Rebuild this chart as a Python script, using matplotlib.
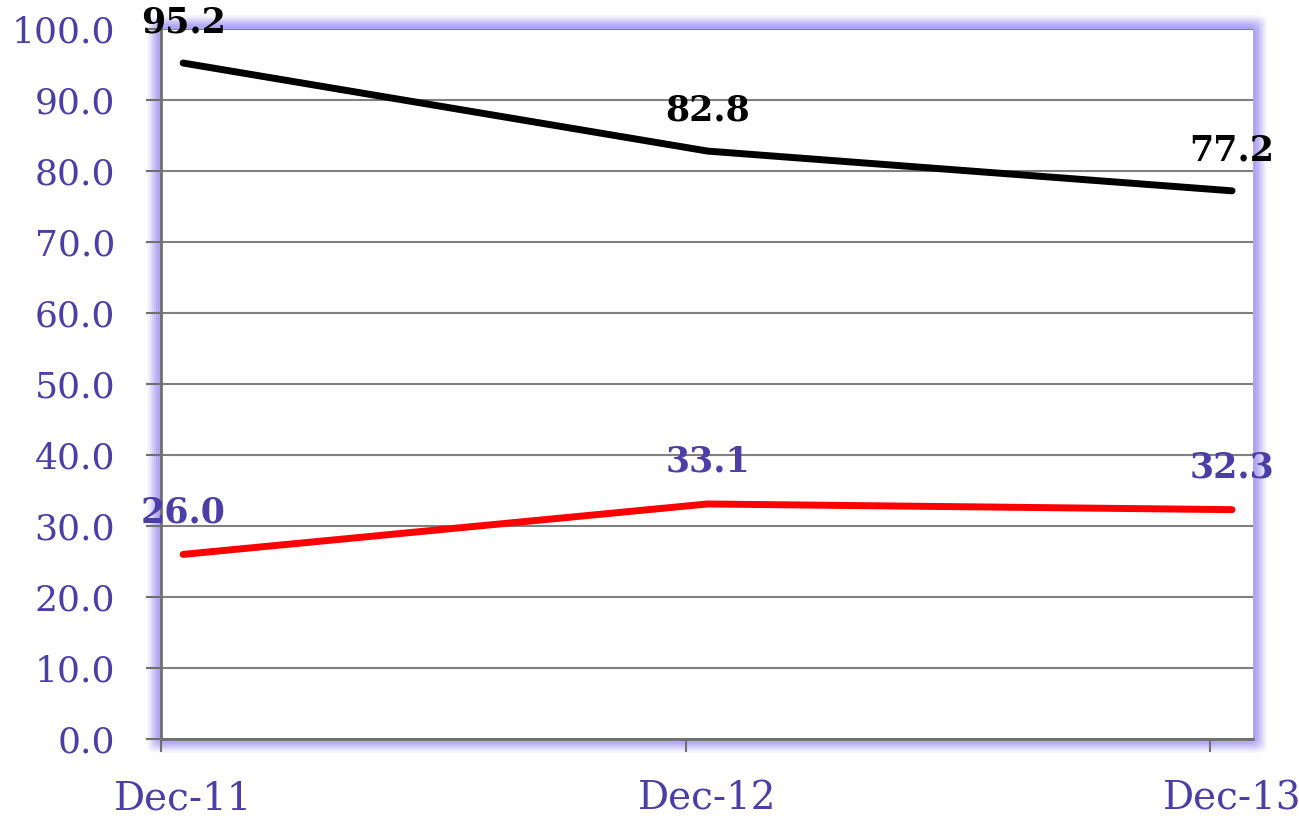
import numpy as np
import matplotlib.pyplot as plt
from matplotlib.patches import FancyBboxPatch
from matplotlib.ticker import FormatStrFormatter

# ── Data ───────────────────────────────────────────────────────
periods = ['Dec-11', 'Dec-12', 'Dec-13']
series_top = [95.2, 82.8, 77.2]
series_bottom = [26.0, 33.1, 32.3]

PURPLE = '#4B3EA6'
GLOW = '#A99CF2'

plt.rcParams['font.family'] = ['DejaVu Serif']

fig = plt.figure(figsize=(12.99, 8.27), dpi=100)
ax = fig.add_axes([0.124, 0.1064, 0.8406, 0.8586])

# soft lavender glow round the plot area
pos = ax.get_position()
for i, a in enumerate([0.12, 0.18, 0.25, 0.35, 0.45, 0.55]):
    pad = 0.0165 - i * 0.0026
    glow = FancyBboxPatch((pos.x0 - pad * 0.64, pos.y0 - pad),
                          pos.width + 2 * pad * 0.64, pos.height + 2 * pad,
                          boxstyle='round,pad=0,rounding_size=0.008',
                          transform=fig.transFigure, fc=GLOW, ec='none',
                          alpha=a, zorder=0)
    fig.patches.append(glow)
ax.set_zorder(1)
ax.set_facecolor('white')

x = np.arange(len(periods))
ax.plot(x, series_top, color='black', lw=5, solid_capstyle='round', zorder=3)
ax.plot(x, series_bottom, color='#FF0000', lw=5, solid_capstyle='round', zorder=3)

for xi, v in zip(x, series_top):
    ax.annotate(f'{v:.1f}', xy=(xi, v), xytext=(0, 17), textcoords='offset points',
                ha='center', va='bottom', fontsize=25, fontweight='bold',
                color='black', zorder=4, annotation_clip=False)
for xi, v in zip(x, series_bottom):
    ax.annotate(f'{v:.1f}', xy=(xi, v), xytext=(0, 18), textcoords='offset points',
                ha='center', va='bottom', fontsize=25, fontweight='bold',
                color=PURPLE, zorder=4, annotation_clip=False)

ax.set_ylim(0, 100)
ax.set_yticks(np.arange(0, 101, 10))
ax.yaxis.set_major_formatter(FormatStrFormatter('%.1f'))
ax.set_xlim(-0.042, 2.04)
ax.set_xticks(x)
ax.set_xticklabels(periods)
# tick marks sit a little left of the category centres
ax.set_xticks(x - 0.042, minor=True)
ax.tick_params(axis='x', which='major', length=0, pad=30, labelsize=28, labelcolor=PURPLE)
ax.tick_params(axis='x', which='minor', length=9, width=1.5, color='#707070', direction='out')
ax.tick_params(axis='y', length=11, width=1.5, color='#707070', labelsize=26,
               labelcolor=PURPLE, pad=22)

ax.grid(axis='y', color='#808080', lw=1.5)
ax.set_axisbelow(True)
for side in ['top', 'right']:
    ax.spines[side].set_visible(False)
for side in ['left', 'bottom']:
    ax.spines[side].set_color('#707070')
    ax.spines[side].set_linewidth(2)

fig.savefig('out.png', dpi=100)
